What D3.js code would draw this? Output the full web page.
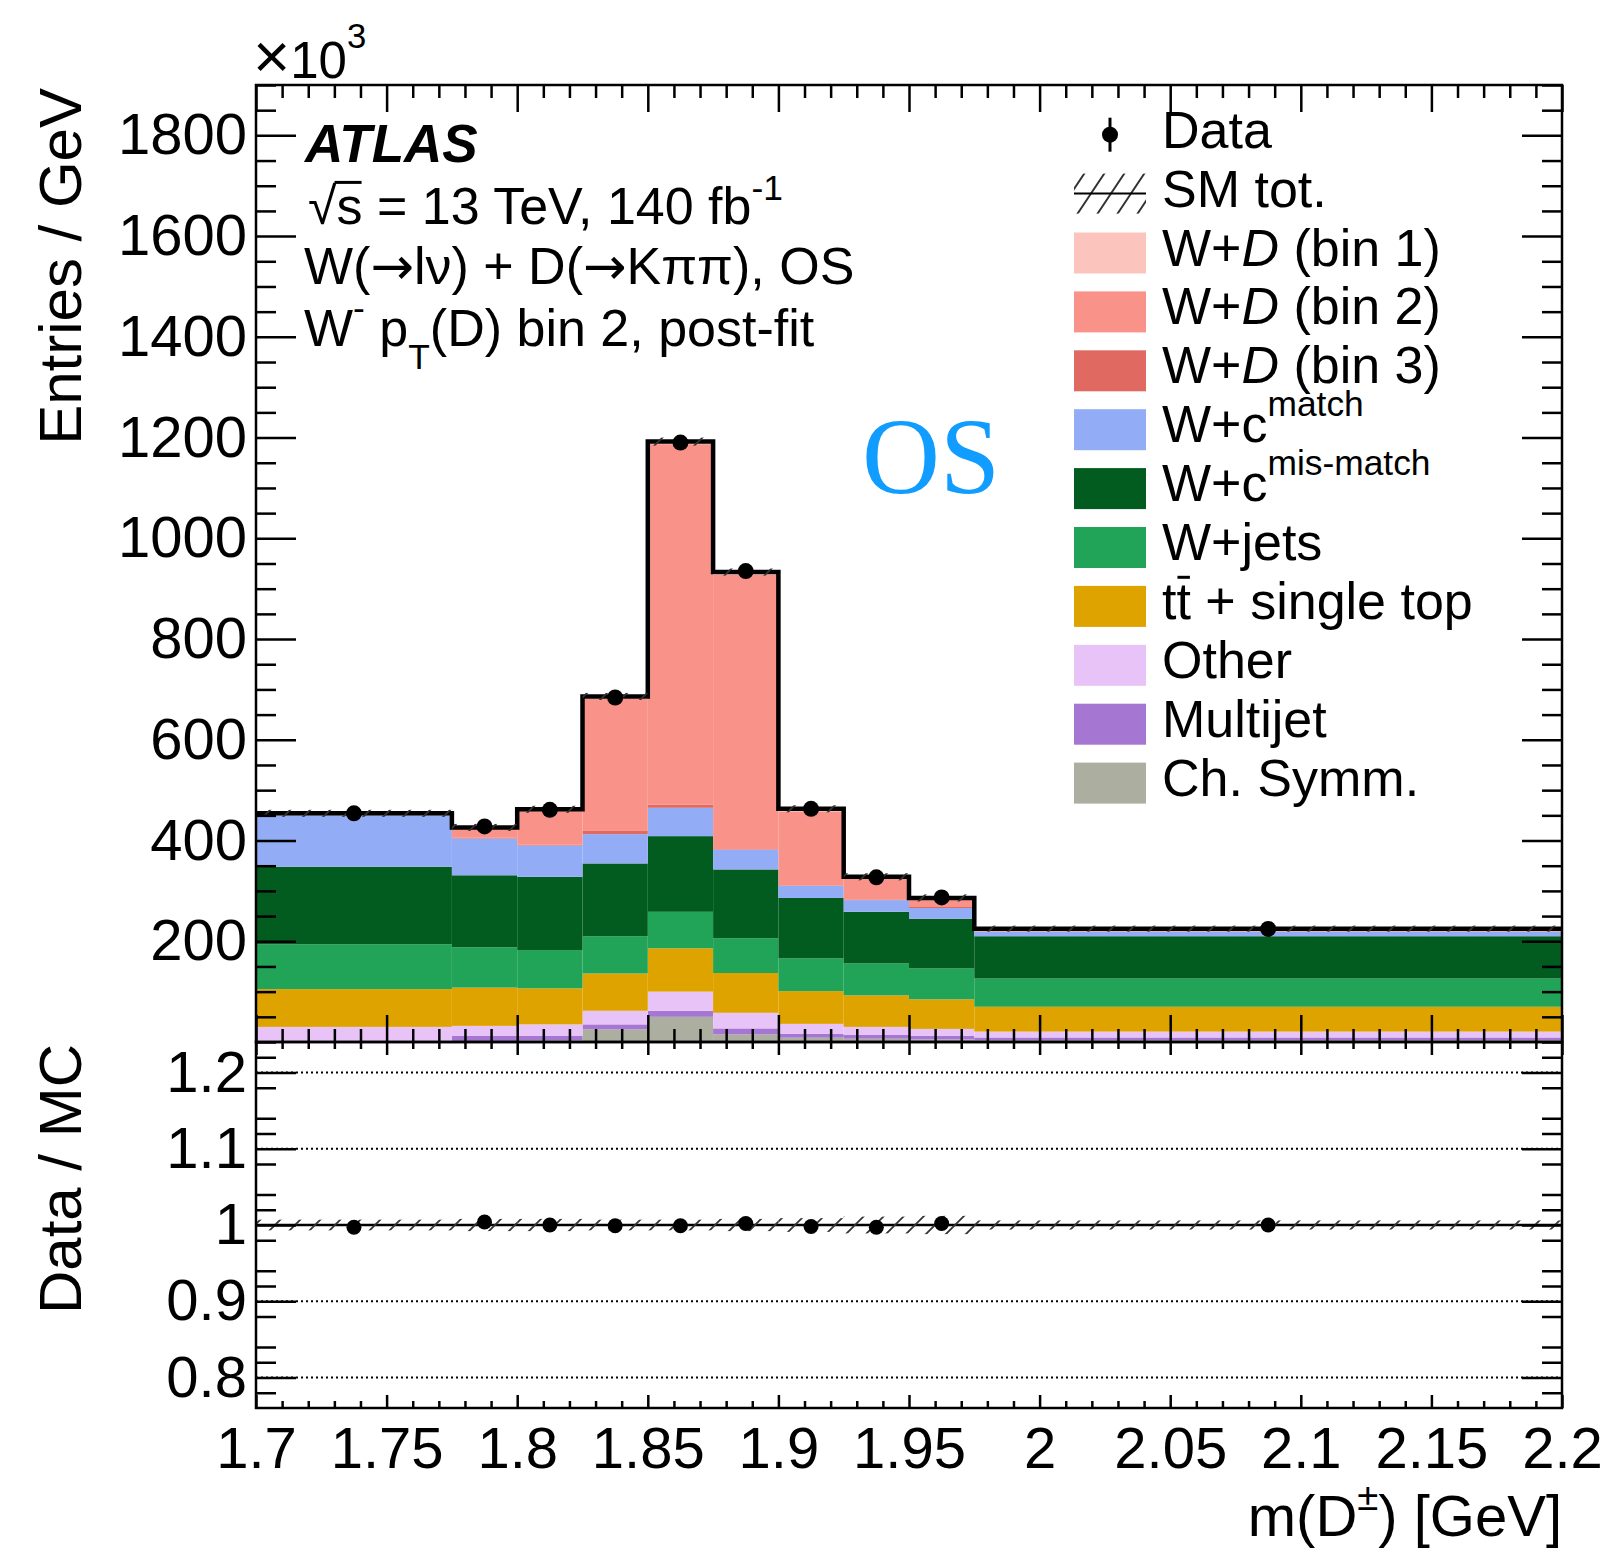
<!DOCTYPE html>
<html>
<head>
<meta charset="utf-8">
<script src="https://cdnjs.cloudflare.com/ajax/libs/d3/7.8.5/d3.min.js"></script>
<style>
  body { margin: 0; background: #fff; }
  text { font-family: "Liberation Sans", Arial, Helvetica, sans-serif; fill: #000; }
</style>
</head>
<body>
<div id="chart"></div>
<script>
// bin edges, m(D) in GeV
var binEdges = [1.7, 1.775, 1.8, 1.825, 1.85, 1.875, 1.9, 1.925, 1.95, 1.975, 2.2];

// stack contributions, entries / GeV in units of 10^3 (bottom of the stack first)
var chSymm    = [0.5, 1, 3, 25, 50, 15, 8.5, 6.5, 5, 4];
var multijet  = [1.5, 11, 9, 10, 12, 12, 7.5, 7.5, 7, 5];
var other     = [28, 20, 23, 27, 38, 31, 20, 16, 14, 11.6];
var ttbar     = [75, 76, 71.5, 74, 86, 79, 65, 62.6, 58.7, 49.4];
var wjets     = [89, 80, 76, 74, 72.5, 69, 65, 63.4, 61.3, 56];
var wcMis     = [154, 143, 145.5, 144.5, 150.2, 136.6, 120, 102.5, 98.7, 84];
var wcMatch   = [102, 73, 62, 58.2, 56.3, 39.4, 24, 23.2, 21.3, 9];
var wdBin3    = [0.5, 2, 2, 6.3, 6.5, 1, 1, 1.3, 2, 0.5];
var wdBin2    = [1, 18, 67, 263, 715.5, 545, 147, 41, 14, 1.5];
var wdBin1    = [2.5, 2, 3, 4, 5, 5, 5, 4, 4, 4];

// data and uncertainties
var dataVals  = [454, 428, 461, 684, 1190, 935, 463, 327, 287, 224.5];
var dataErr   = [2.5, 4, 4.3, 5.2, 6.9, 6.1, 4.3, 3.6, 3.4, 1.0];
var mcErr     = [7, 7, 7, 7, 8, 7, 7, 7, 7, 6];

// ratio panel
var ratioVals    = [0.997, 1.004, 1.0, 0.999, 0.999, 1.002, 0.998, 0.997, 1.002, 1.0];
var ratioErr     = [0.005, 0.006, 0.006, 0.005, 0.004, 0.005, 0.006, 0.006, 0.007, 0.004];
var ratioBandErr = [0.007, 0.008, 0.008, 0.007, 0.007, 0.008, 0.009, 0.011, 0.012, 0.006];

// tick labels
var xTickLabels     = [1.7, 1.75, 1.8, 1.85, 1.9, 1.95, 2, 2.05, 2.1, 2.15, 2.2];
var yTickLabels     = [200, 400, 600, 800, 1000, 1200, 1400, 1600, 1800];
var ratioTickLabels = [0.8, 0.9, 1, 1.1, 1.2];

var keys = ["chSymm", "multijet", "other", "ttbar", "wjets", "wcMis", "wcMatch", "wdBin3", "wdBin2", "wdBin1"];
var colors = {
  chSymm: "#acae9f", multijet: "#a676d3", other: "#e8c3f8", ttbar: "#dfa300",
  wjets: "#21a358", wcMis: "#025c20", wcMatch: "#92acf5",
  wdBin3: "#e06a62", wdBin2: "#f99389", wdBin1: "#fbc5be"
};
var source = {chSymm: chSymm, multijet: multijet, other: other, ttbar: ttbar, wjets: wjets,
  wcMis: wcMis, wcMatch: wcMatch, wdBin3: wdBin3, wdBin2: wdBin2, wdBin1: wdBin1};

var rows = dataVals.map(function(d, i) {
  var r = {lo: binEdges[i], hi: binEdges[i + 1]};
  keys.forEach(function(k) { r[k] = source[k][i]; });
  return r;
});
var totals = rows.map(function(r) { return d3.sum(keys, function(k) { return r[k]; }); });

var width = 1604, height = 1550;
var svg = d3.select("#chart").append("svg")
    .attr("width", width)
    .attr("height", height);

var defs = svg.append("defs");
defs.append("pattern").attr("id", "hatch")
    .attr("patternUnits", "userSpaceOnUse").attr("width", 20).attr("height", 20)
  .append("path").attr("d", "M-5,5 L5,-5 M0,20 L20,0 M15,25 L25,15")
    .attr("stroke", "#333").attr("stroke-width", 1.8);
defs.append("pattern").attr("id", "hatchLeg")
    .attr("patternUnits", "userSpaceOnUse").attr("width", 20).attr("height", 30)
  .append("path").attr("d", "M-5,7.5 L5,-7.5 M0,30 L20,0 M15,37.5 L25,22.5")
    .attr("stroke", "#333").attr("stroke-width", 2);

var x = d3.scaleLinear().domain([1.7, 2.2]).range([256, 1562]);
var y = d3.scaleLinear().domain([0, 1900]).range([1042, 85]);
var yr = d3.scaleLinear().domain([0.76, 1.24]).range([1408, 1042]);

// stacked histogram
var stacked = d3.stack().keys(keys)(rows);
svg.append("g").selectAll("g")
    .data(stacked)
    .enter().append("g")
    .attr("fill", function(d) { return colors[d.key]; })
  .selectAll("rect")
    .data(function(d) { return d; })
    .enter().append("rect")
    .attr("x", function(d) { return x(d.data.lo); })
    .attr("width", function(d) { return x(d.data.hi) - x(d.data.lo); })
    .attr("y", function(d) { return y(d[1]); })
    .attr("height", function(d) { return Math.max(0, y(d[0]) - y(d[1])); });

// total outline
var outline = "M" + x(binEdges[0]) + "," + y(totals[0]);
totals.forEach(function(t, i) {
  outline += " V" + y(t) + " H" + x(binEdges[i + 1]);
});
svg.append("path").attr("d", outline)
    .attr("fill", "none").attr("stroke", "#000").attr("stroke-width", 4.5);

// MC uncertainty band
svg.append("g").selectAll("rect")
    .data(rows)
    .enter().append("rect")
    .attr("x", function(d) { return x(d.lo); })
    .attr("width", function(d) { return x(d.hi) - x(d.lo); })
    .attr("y", function(d, i) { return y(totals[i] + mcErr[i]); })
    .attr("height", function(d, i) { return y(totals[i] - mcErr[i]) - y(totals[i] + mcErr[i]); })
    .attr("fill", "url(#hatch)");

// data points
var pts = svg.append("g");
pts.selectAll("line")
    .data(dataVals)
    .enter().append("line")
    .attr("x1", function(d, i) { return x((binEdges[i] + binEdges[i + 1]) / 2); })
    .attr("x2", function(d, i) { return x((binEdges[i] + binEdges[i + 1]) / 2); })
    .attr("y1", function(d, i) { return y(d - dataErr[i]); })
    .attr("y2", function(d, i) { return y(d + dataErr[i]); })
    .attr("stroke", "#000").attr("stroke-width", 3);
pts.selectAll("circle")
    .data(dataVals)
    .enter().append("circle")
    .attr("cx", function(d, i) { return x((binEdges[i] + binEdges[i + 1]) / 2); })
    .attr("cy", function(d) { return y(d); })
    .attr("r", 8);

// ratio panel
var gridVals = [0.8, 0.9, 1.1, 1.2];
svg.append("g").selectAll("line")
    .data(gridVals)
    .enter().append("line")
    .attr("x1", 256).attr("x2", 1562)
    .attr("y1", function(d) { return yr(d); })
    .attr("y2", function(d) { return yr(d); })
    .attr("stroke", "#000").attr("stroke-width", 2)
    .attr("stroke-dasharray", "2,3");

svg.append("line")
    .attr("x1", 256).attr("x2", 1562)
    .attr("y1", yr(1)).attr("y2", yr(1))
    .attr("stroke", "#000").attr("stroke-width", 2.5);

svg.append("g").selectAll("rect")
    .data(rows)
    .enter().append("rect")
    .attr("x", function(d) { return x(d.lo); })
    .attr("width", function(d) { return x(d.hi) - x(d.lo); })
    .attr("y", function(d, i) { return yr(1 + ratioBandErr[i]); })
    .attr("height", function(d, i) { return yr(1 - ratioBandErr[i]) - yr(1 + ratioBandErr[i]); })
    .attr("fill", "url(#hatch)");

var rpts = svg.append("g");
rpts.selectAll("line")
    .data(ratioVals)
    .enter().append("line")
    .attr("x1", function(d, i) { return x((binEdges[i] + binEdges[i + 1]) / 2); })
    .attr("x2", function(d, i) { return x((binEdges[i] + binEdges[i + 1]) / 2); })
    .attr("y1", function(d, i) { return yr(d - ratioErr[i]); })
    .attr("y2", function(d, i) { return yr(d + ratioErr[i]); })
    .attr("stroke", "#000").attr("stroke-width", 3);
rpts.selectAll("circle")
    .data(ratioVals)
    .enter().append("circle")
    .attr("cx", function(d, i) { return x((binEdges[i] + binEdges[i + 1]) / 2); })
    .attr("cy", function(d) { return yr(d); })
    .attr("r", 7.5);

// axes
function minorTicks(lo, hi, step, skip) {
  var n = Math.round((hi - lo) / step);
  return d3.range(n + 1).filter(function(i) { return i % skip !== 0; })
    .map(function(i) { return +(lo + i * step).toFixed(4); });
}
function addAxis(axis, tr) {
  var g = svg.append("g").attr("transform", tr).call(axis);
  g.select(".domain").remove();
  g.selectAll("line").attr("stroke-width", 2.5);
  g.selectAll("text").attr("font-size", 58)
      .attr("font-family", "'Liberation Sans', Arial, Helvetica, sans-serif");
  return g;
}
var xMajor = xTickLabels;
var xMinor = minorTicks(1.7, 2.2, 0.01, 5);

addAxis(d3.axisBottom(x).tickValues(xMajor).tickSize(-27).tickFormat(""), "translate(0,1042)");
addAxis(d3.axisBottom(x).tickValues(xMinor).tickSize(-13).tickFormat(""), "translate(0,1042)");
addAxis(d3.axisTop(x).tickValues(xMajor).tickSize(-27).tickFormat(""), "translate(0,85)");
addAxis(d3.axisTop(x).tickValues(xMinor).tickSize(-13).tickFormat(""), "translate(0,85)");

addAxis(d3.axisLeft(y).tickValues(yTickLabels).tickSize(-40).tickPadding(9)
    .tickFormat(function(d) { return d; }), "translate(256,0)");
addAxis(d3.axisLeft(y).tickValues(minorTicks(0, 1900, 50, 4)).tickSize(-20).tickFormat(""), "translate(256,0)");
addAxis(d3.axisRight(y).tickValues(yTickLabels).tickSize(-40).tickFormat(""), "translate(1562,0)");
addAxis(d3.axisRight(y).tickValues(minorTicks(0, 1900, 50, 4)).tickSize(-20).tickFormat(""), "translate(1562,0)");

addAxis(d3.axisBottom(x).tickValues(xMajor).tickSize(-13).tickPadding(19)
    .tickFormat(function(d) { return d; }), "translate(0,1408)");
addAxis(d3.axisBottom(x).tickValues(xMinor).tickSize(-7).tickFormat(""), "translate(0,1408)");
addAxis(d3.axisTop(x).tickValues(xMajor).tickSize(-13).tickFormat(""), "translate(0,1042)");
addAxis(d3.axisTop(x).tickValues(xMinor).tickSize(-7).tickFormat(""), "translate(0,1042)");

var rMinor = minorTicks(0.76, 1.24, 0.02, 5).filter(function(v) { return ratioTickLabels.indexOf(v) < 0; });
addAxis(d3.axisLeft(yr).tickValues(ratioTickLabels).tickSize(-40).tickPadding(9)
    .tickFormat(d3.format("~g")), "translate(256,0)");
addAxis(d3.axisLeft(yr).tickValues(rMinor).tickSize(-20).tickFormat(""), "translate(256,0)");
addAxis(d3.axisRight(yr).tickValues(ratioTickLabels).tickSize(-40).tickFormat(""), "translate(1562,0)");
addAxis(d3.axisRight(yr).tickValues(rMinor).tickSize(-20).tickFormat(""), "translate(1562,0)");

// frames
svg.append("rect").attr("x", 256).attr("y", 85).attr("width", 1306).attr("height", 957)
    .attr("fill", "none").attr("stroke", "#000").attr("stroke-width", 2.5);
svg.append("rect").attr("x", 256).attr("y", 1042).attr("width", 1306).attr("height", 366)
    .attr("fill", "none").attr("stroke", "#000").attr("stroke-width", 2.5);

// text helper with super/subscripts and overbars
function richText(sel, px, py, parts, size) {
  var t = sel.append("text").attr("x", px).attr("y", py).attr("font-size", size);
  var shift = 0, idx = 0, bars = [];
  parts.forEach(function(p) {
    var target = p.sup ? -(p.sup * size) : (p.sub ? p.sub * size : 0);
    var ts = t.append("tspan").text(p.t).attr("dy", target - shift);
    shift = target;
    if (p.sup || p.sub) ts.attr("font-size", size * (p.scale || 0.68));
    if (p.italic) ts.attr("font-style", "italic");
    if (p.font) ts.style("font-family", p.font);
    if (p.over) bars.push({start: idx, n: p.t.length, pad: p.pad || 0});
    idx += p.t.length;
  });
  bars.forEach(function(b) {
    var node = t.node();
    var a = node.getExtentOfChar(b.start);
    var z = node.getExtentOfChar(b.start + b.n - 1);
    sel.append("line")
        .attr("x1", a.x + 1 - b.pad).attr("x2", z.x + z.width - 1)
        .attr("y1", py - 0.8 * size).attr("y2", py - 0.8 * size)
        .attr("stroke", "#000").attr("stroke-width", 3);
  });
  return t;
}

// axis titles
svg.append("text").attr("transform", "translate(81,88) rotate(-90)")
    .attr("text-anchor", "end").attr("font-size", 60).text("Entries / GeV");
svg.append("text").attr("transform", "translate(81,1044) rotate(-90)")
    .attr("text-anchor", "end").attr("font-size", 60).text("Data / MC");
var xt = richText(svg, 1562, 1536, [{t: "m(D"}, {t: "±", sup: 0.45, scale: 0.66}, {t: ") [GeV]"}], 58);
xt.attr("text-anchor", "end");
richText(svg, 253, 78, [{t: "×", sup: 0.0001, scale: 1.25}, {t: "10"}, {t: "3", sup: 0.58, scale: 0.68}], 51);

// ATLAS label
svg.append("text").attr("x", 305).attr("y", 162).attr("font-size", 53)
    .attr("font-weight", "bold").attr("font-style", "italic").text("ATLAS");
richText(svg, 308, 224, [{t: "√"}, {t: "s", over: true, pad: 3}, {t: " = 13 TeV, 140 fb"}, {t: "-1", sup: 0.46, scale: 0.68}], 52);
richText(svg, 304, 284, [{t: "W("}, {t: "→", font: "'DejaVu Sans', sans-serif"}, {t: "lν) + D("},
    {t: "→", font: "'DejaVu Sans', sans-serif"}, {t: "Kππ), OS"}], 52);
richText(svg, 304, 346, [{t: "W"}, {t: "-", sup: 0.5, scale: 0.68}, {t: " p"}, {t: "T", sub: 0.45, scale: 0.68}, {t: "(D) bin 2, post-fit"}], 52);

svg.append("text").attr("x", 862).attr("y", 493)
    .style("font-family", "'Liberation Serif', 'Times New Roman', serif")
    .style("fill", "#109dff").attr("font-size", 108).text("OS");

// legend
var legend = [
  {type: "data", parts: [{t: "Data"}]},
  {type: "hatch", parts: [{t: "SM tot."}]},
  {key: "wdBin1", parts: [{t: "W+"}, {t: "D", italic: true}, {t: " (bin 1)"}]},
  {key: "wdBin2", parts: [{t: "W+"}, {t: "D", italic: true}, {t: " (bin 2)"}]},
  {key: "wdBin3", parts: [{t: "W+"}, {t: "D", italic: true}, {t: " (bin 3)"}]},
  {key: "wcMatch", parts: [{t: "W+c"}, {t: "match", sup: 0.5}]},
  {key: "wcMis", parts: [{t: "W+c"}, {t: "mis-match", sup: 0.5}]},
  {key: "wjets", parts: [{t: "W+jets"}]},
  {key: "ttbar", parts: [{t: "t"}, {t: "t", over: true}, {t: " + single top"}]},
  {key: "other", parts: [{t: "Other"}]},
  {key: "multijet", parts: [{t: "Multijet"}]},
  {key: "chSymm", parts: [{t: "Ch. Symm."}]}
];
var lg = svg.append("g");
legend.forEach(function(e, i) {
  var cy = 134.7 + 58.9 * i;
  if (e.type === "data") {
    lg.append("line").attr("x1", 1110).attr("x2", 1110).attr("y1", cy - 17).attr("y2", cy + 17)
        .attr("stroke", "#000").attr("stroke-width", 3);
    lg.append("circle").attr("cx", 1110).attr("cy", cy).attr("r", 8);
  } else if (e.type === "hatch") {
    lg.append("rect").attr("x", 1074).attr("y", cy - 20).attr("width", 72).attr("height", 40)
        .attr("fill", "url(#hatchLeg)");
    lg.append("line").attr("x1", 1074).attr("x2", 1146).attr("y1", cy).attr("y2", cy)
        .attr("stroke", "#000").attr("stroke-width", 2);
  } else {
    lg.append("rect").attr("x", 1074).attr("y", cy - 20).attr("width", 72).attr("height", 41)
        .attr("fill", colors[e.key]);
  }
  richText(lg, 1162, cy + 13, e.parts, 52);
});
</script>
</body>
</html>
